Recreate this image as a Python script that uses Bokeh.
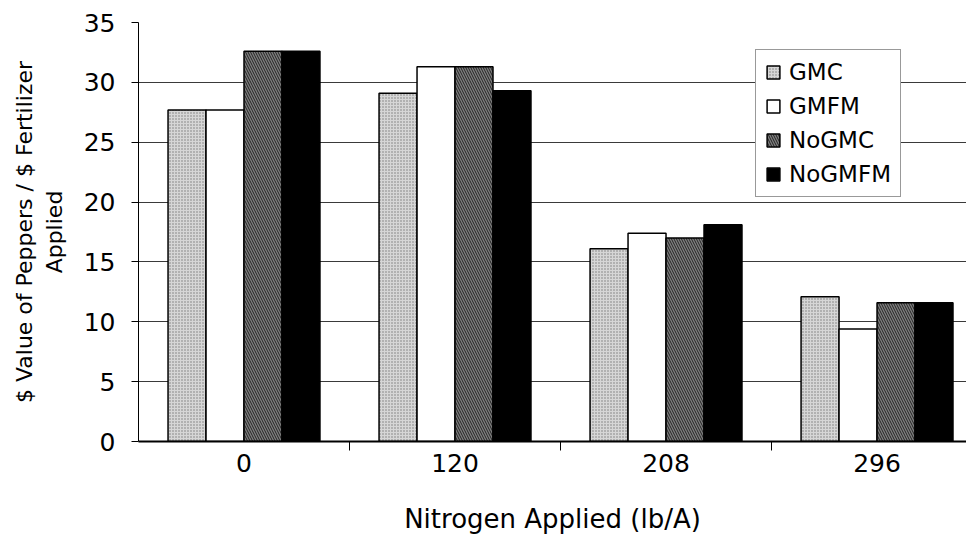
import numpy as np
from bokeh.plotting import figure
from bokeh.models import (ColumnDataSource, Range1d, FixedTicker, Legend, LegendItem, Grid)
from bokeh.transform import dodge
from bokeh.embed import file_html
from bokeh.resources import INLINE

categories = ["0", "120", "208", "296"]
gmc = [27.7, 29.1, 16.1, 12.1]
gmfm = [27.7, 31.3, 17.4, 9.4]
nogmc = [32.6, 31.3, 17.0, 11.6]
nogmfm = [32.6, 29.3, 18.1, 11.6]
y_ticks = [0, 5, 10, 15, 20, 25, 30, 35]

xc = np.arange(len(categories)) + 0.5
source = ColumnDataSource(dict(x=xc, gmc=gmc, gmfm=gmfm, nogmc=nogmc, nogmfm=nogmfm))

FONT = "DejaVu Sans"

p = figure(width=966, height=538, output_backend="svg", toolbar_location=None,
           x_range=Range1d(0, 3.924), y_range=Range1d(0, 35),
           min_border_left=138, min_border_right=0, min_border_top=22, min_border_bottom=97)
p.outline_line_color = None
p.background_fill_color = "white"
p.border_fill_color = "white"

bw = 0.18
common = dict(width=bw, line_color="black", line_width=1.5, source=source)
r1 = p.vbar(x=dodge("x", -0.27), top="gmc", fill_color="#d6d6d6",
            hatch_pattern=".", hatch_color="#7a7a7a", hatch_scale=3, hatch_weight=1, **common)
r2 = p.vbar(x=dodge("x", -0.09), top="gmfm", fill_color="white", **common)
r3 = p.vbar(x=dodge("x", 0.09), top="nogmc", fill_color="#7e7e7e",
            hatch_pattern="\\", hatch_color="#222222", hatch_scale=5, hatch_weight=1, **common)
r4 = p.vbar(x=dodge("x", 0.27), top="nogmfm", fill_color="black", **common)

# grids
p.xgrid.visible = False
p.ygrid.ticker = FixedTicker(ticks=y_ticks[1:-1])
p.ygrid.grid_line_color = "#3a3a3a"
p.ygrid.grid_line_width = 1
top_grid = Grid(dimension=1, ticker=FixedTicker(ticks=[35]), grid_line_color="#3a3a3a",
                grid_line_dash="dotted", grid_line_width=1)
p.add_layout(top_grid)

# y axis
p.yaxis.ticker = FixedTicker(ticks=y_ticks)
p.yaxis.axis_label = "$ Value of Peppers / $ Fertilizer\nApplied"
p.yaxis.axis_label_text_font = FONT
p.yaxis.axis_label_text_font_size = "22px"
p.yaxis.axis_label_text_font_style = "normal"
p.yaxis.axis_label_text_color = "black"
p.yaxis.axis_label_standoff = 14
p.yaxis.major_label_text_font = FONT
p.yaxis.major_label_text_font_size = "25px"
p.yaxis.major_label_text_color = "black"
p.yaxis.major_label_standoff = 16
p.yaxis.major_tick_out = 7
p.yaxis.major_tick_in = 0
p.yaxis.major_tick_line_color = "black"
p.yaxis.minor_tick_out = 0
p.yaxis.minor_tick_in = 0
p.yaxis.axis_line_color = "black"
p.yaxis.axis_line_width = 1

# x axis
p.xaxis.ticker = FixedTicker(ticks=list(xc), minor_ticks=[1, 2, 3])
p.xaxis.major_label_overrides = {float(x): c for x, c in zip(xc, categories)}
p.xaxis.major_tick_out = 0
p.xaxis.major_tick_in = 0
p.xaxis.minor_tick_out = 9
p.xaxis.minor_tick_in = 0
p.xaxis.minor_tick_line_color = "black"
p.xaxis.major_label_text_font = FONT
p.xaxis.major_label_text_font_size = "25px"
p.xaxis.major_label_text_color = "black"
p.xaxis.major_label_standoff = 3
p.xaxis.axis_label = "Nitrogen Applied (lb/A)"
p.xaxis.axis_label_text_font = FONT
p.xaxis.axis_label_text_font_size = "26px"
p.xaxis.axis_label_text_font_style = "normal"
p.xaxis.axis_label_text_color = "black"
p.xaxis.axis_label_standoff = 29
p.xaxis.axis_line_color = "black"
p.xaxis.axis_line_width = 2

legend = Legend(items=[LegendItem(label="GMC", renderers=[r1]),
                       LegendItem(label="GMFM", renderers=[r2]),
                       LegendItem(label="NoGMC", renderers=[r3]),
                       LegendItem(label="NoGMFM", renderers=[r4])],
                location=(617, 244))
legend.label_text_font = FONT
legend.label_text_font_size = "23px"
legend.label_text_color = "black"
legend.glyph_width = 16
legend.glyph_height = 16
legend.label_height = 22
legend.label_standoff = 8
legend.spacing = 8
legend.padding = 9
legend.margin = 0
legend.border_line_color = "#333333"
legend.border_line_width = 1
legend.background_fill_alpha = 1
p.add_layout(legend, "center")

open("out.html", "w").write(file_html(p, INLINE))
